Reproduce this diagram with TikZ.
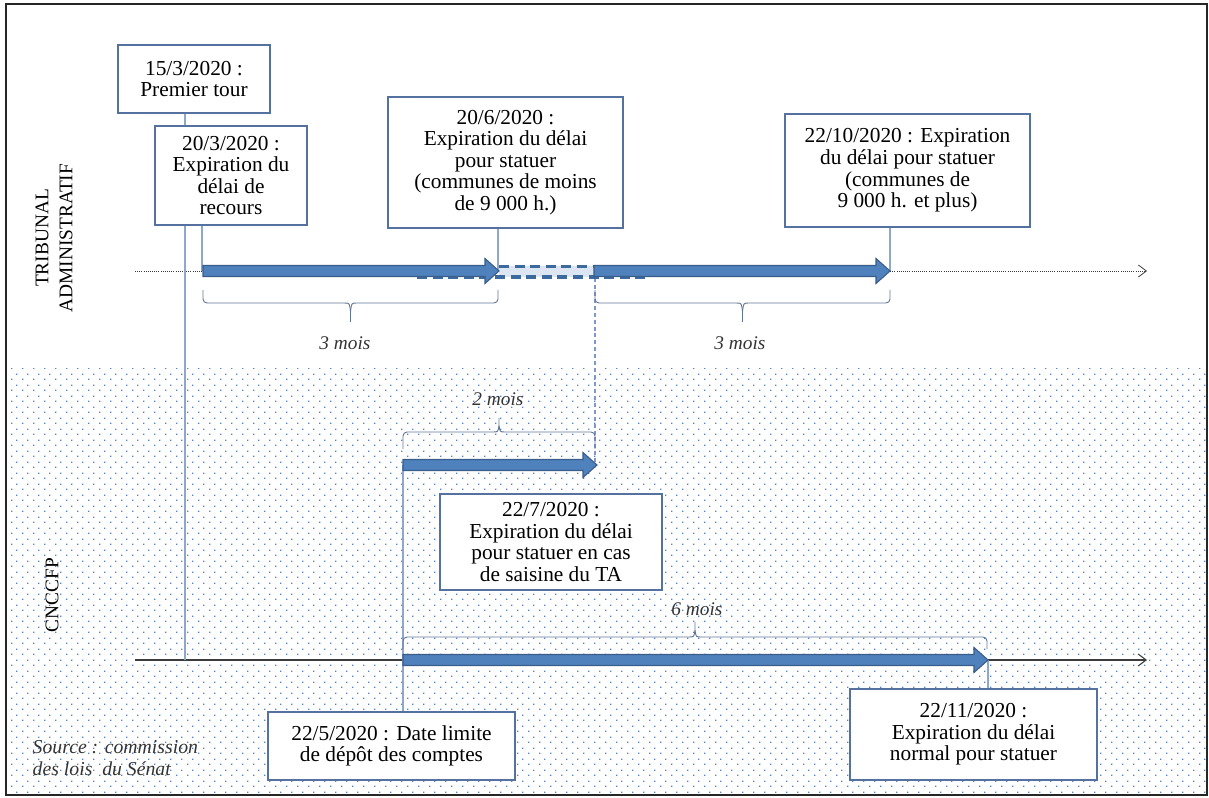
\documentclass[tikz,border=0pt]{standalone}
\usepackage{fontspec}
\setmainfont{Liberation Serif}
\usetikzlibrary{arrows.meta,patterns.meta}

\definecolor{boxline}{RGB}{84,113,160}
\definecolor{linkline}{RGB}{142,167,204}
\definecolor{arrfill}{RGB}{79,129,189}
\definecolor{arrline}{RGB}{56,93,138}
\definecolor{bandfill}{RGB}{220,230,242}
\definecolor{dashcol}{RGB}{61,106,158}
\definecolor{dotcol}{RGB}{80,130,205}
\definecolor{bracecol}{RGB}{96,118,150}
\definecolor{axiscol}{RGB}{60,60,60}

% dotted background tile (two offset dots per tile)
\pgfdeclarepattern{
  name=tldots, type=uncolored,
  bottom left={\pgfpoint{0pt}{0pt}},
  top right={\pgfpoint{7.875pt}{8.25pt}},
  tile size={\pgfpoint{7.875pt}{8.25pt}},
  code={
    \pgfpathrectangle{\pgfpoint{0pt}{0pt}}{\pgfpoint{1.05pt}{1.05pt}}
    \pgfpathrectangle{\pgfpoint{3.94pt}{4.125pt}}{\pgfpoint{1.05pt}{1.05pt}}
    \pgfusepath{fill}
  }
}

% thick timeline arrow: x start, x end, y
\newcommand\tlarrow[3]{%
  \filldraw[arrfill line] (#1,#3-5.5) -- (#2-14,#3-5.5) -- (#2-14,#3-12.5) -- (#2,#3)
    -- (#2-14,#3+12.5) -- (#2-14,#3+5.5) -- (#1,#3+5.5) -- cycle;}

% brace: x1, x2, arm end y, bar y, tip y
\newcommand\tlbrace[5]{%
  \pgfmathsetmacro\bxm{(#1+#2)/2}%
  \pgfmathsetmacro\bym{#4+0.45*(#5-#4)}%
  \draw[bracestyle,rounded corners=3] (#1,#3) -- (#1,#4) -- (\bxm-6,#4);
  \draw[bracestyle] (\bxm-6,#4) .. controls (\bxm-1,#4) .. (\bxm,\bym) -- (\bxm,#5);
  \draw[bracestyle] (\bxm+6,#4) .. controls (\bxm+1,#4) .. (\bxm,\bym);
  \draw[bracestyle,rounded corners=3] (\bxm+6,#4) -- (#2,#4) -- (#2,#3);}

\begin{document}
\begin{tikzpicture}[x=0.75pt,y=-0.75pt,
  datebox/.style={draw=boxline, line width=0.9pt, fill=white, align=center,
    inner sep=2pt, font=\fontsize{16}{16.2}\selectfont},
  arrfill line/.style={fill=arrfill, draw=arrline, line width=0.8pt},
  link/.style={draw=linkline, line width=1.1pt},
  bracestyle/.style={draw=bracecol, line width=0.7pt},
  mois/.style={font=\fontsize{14.5}{16}\selectfont\itshape, text=black!80},
  side/.style={rotate=90, align=center, font=\fontsize{14.5}{18}\selectfont}]

\useasboundingbox (0,0) rectangle (1209,798);

% dotted lower band
\fill[pattern={tldots}, pattern color=dotcol] (8,368) rectangle (1206,794);

% key dates on the two axes
\coordinate (axTs) at (135,271);
\coordinate (axTe) at (1147,271);
\coordinate (axBs) at (135,660);
\coordinate (axBe) at (1147,660);
\coordinate (d1503) at (185,660);
\coordinate (d2003) at (202,271);
\coordinate (d2006) at (498,271);
\coordinate (d2210) at (890,271);
\coordinate (d2207top) at (595,278);
\coordinate (d2207) at (595,462);
\coordinate (d2205) at (403,465);
\coordinate (d2211) at (988,660);

% axes
\draw[axiscol, line width=0.6pt, densely dotted, -{Straight Barb[length=6pt,width=9pt]}] (axTs) -- (axTe);
\draw[axiscol, line width=0.8pt, -{Straight Barb[length=6pt,width=9pt]}] (axBs) -- (axBe);

% first round, with its line down to the lower axis
\node[datebox, minimum width=114pt, minimum height=51pt] (b1503) at (194,79)
  {15/3/2020 :\\Premier tour};
\draw[link, line width=1.5pt] (b1503.south -| d1503) -- (d1503);

% other dates
\node[datebox, minimum width=114pt, minimum height=74.25pt] (b2003) at (231,175.5)
  {20/3/2020 :\\Expiration du\\délai de\\recours};
\node[datebox, minimum width=176.25pt, minimum height=98.25pt] (b2006) at (505.5,162.5)
  {20/6/2020 :\\Expiration du délai\\pour statuer\\(communes de moins\\de 9 000 h.)};
\node[datebox, minimum width=183.75pt, minimum height=84.75pt] (b2210) at (907.5,170.5)
  {22/10/2020 : Expiration\\du délai pour statuer\\(communes de\\9 000 h. et plus)};
\node[datebox, minimum width=166.5pt, minimum height=72pt] (b2207) at (551,542)
  {22/7/2020 :\\Expiration du délai\\pour statuer en cas\\de saisine du TA};
\node[datebox, minimum width=185.25pt, minimum height=51pt] (b2205) at (391.5,746)
  {22/5/2020 : Date limite\\de dépôt des comptes};
\node[datebox, minimum width=185.25pt, minimum height=68.25pt] (b2211) at (973.5,734.5)
  {22/11/2020 :\\Expiration du délai\\normal pour statuer};

% links from boxes to the axes
\draw[link] (b2003.south -| d2003) -- (d2003);
\draw[link] (b2006.south -| d2006) -- (d2006);
\draw[link] (b2210.south -| d2210) -- (d2210);
\draw[link] (d2205) -- (b2205.north -| d2205);
\draw[link] (d2211) -- (b2211.north -| d2211);
\draw[linkline!90!blue, line width=0.8pt, dash pattern=on 3pt off 2.2pt] (d2207top) -- (d2207);

% dashed extension between the two tribunal periods
\fill[bandfill] (499,266) rectangle (594,277);
\draw[dashcol, line width=2.3pt, dash pattern=on 7.5pt off 4.2pt] (499,266.5) -- (594,266.5);
\draw[dashcol, line width=2.3pt, dash pattern=on 7.5pt off 4.2pt] (417,277) -- (645,277);

% periods
\tlarrow{203}{499}{271}
\tlarrow{594}{890}{271}
\tlarrow{403}{597}{465}
\tlarrow{403}{988}{660}

% braces and durations
\tlbrace{203}{498}{290}{303}{322}
\node[mois] (m1) at (345,343) {3 mois};
\tlbrace{595}{890}{290}{303}{322}
\node[mois] (m2) at (740,343) {3 mois};
\tlbrace{403}{595}{449}{432}{418}
\node[mois] (m3) at (498,399) {2 mois};
\tlbrace{403}{987}{649}{637}{622}
\node[mois] (m4) at (697,609) {6 mois};

% side headings
\node[side] (tribunal) at (54,238) {TRIBUNAL\\ADMINISTRATIF};
\node[side] (cnccfp) at (52,595) {CNCCFP};

% source
\node[anchor=west, align=left, font=\fontsize{14.8}{17}\selectfont\itshape, text=black!80]
  (src) at (28,758) {Source : commission\\des lois\ \ du Sénat};

% frame
\draw[black!85, line width=1.5pt] (6,4) rectangle (1207,795);
\end{tikzpicture}
\end{document}
